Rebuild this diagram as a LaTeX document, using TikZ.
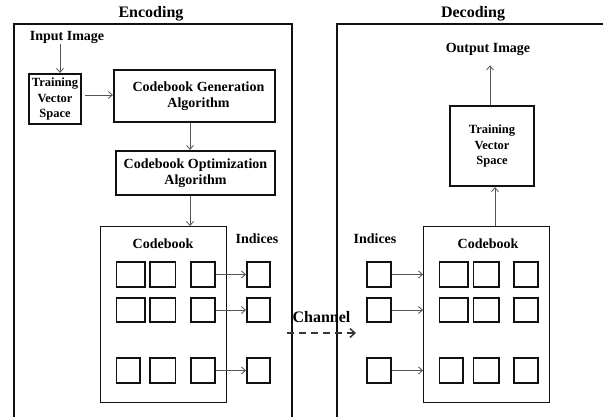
\documentclass[tikz,border=0pt]{standalone}
\usepackage{fontspec}
\setmainfont{Liberation Serif}
\usetikzlibrary{arrows.meta,positioning,calc}
\definecolor{VqDark}{HTML}{111111}
\definecolor{VqGray}{HTML}{555555}
\tikzset{
  frameline/.style={draw=VqDark,line width=1.6pt},
  procbox/.style={draw=VqDark,line width=1.6pt,align=center,inner sep=0pt,font=\fontsize{14}{16.5}\selectfont\bfseries},
  smallbox/.style={procbox,font=\fontsize{12.5}{15.5}\selectfont\bfseries},
  bookbox/.style={draw=VqDark,line width=1.4pt,inner sep=0pt},
  cellbox/.style={draw=VqDark,line width=1.6pt,inner sep=0pt,minimum height=24.5pt},
  flowarrow/.style={-{Straight Barb[length=4pt,width=7pt]},line width=0.8pt,draw=VqGray},
  chanarrow/.style={-{Straight Barb[length=5pt,width=9pt]},dash pattern=on 7pt off 5pt,line width=1.5pt,draw=VqDark!85},
  lbl/.style={font=\fontsize{14}{16}\selectfont\bfseries,inner sep=0pt},
  ttl/.style={font=\fontsize{16}{18}\selectfont\bfseries,inner sep=0pt}
}
\begin{document}
\begin{tikzpicture}[x=1pt,y=-1pt]
\useasboundingbox (0,0) rectangle (603,416);
\draw[frameline] (14,417)--(14,24)--(292,24)--(292,417);
\draw[frameline] (337,417)--(337,24)--(604,24);
\node[ttl] (encT) at (151,14) {Encoding};
\node[ttl] (decT) at (473,14) {Decoding};
% encoding side
\node[lbl] (inImg) at (67,37) {Input Image};
\node[smallbox,minimum width=52.5pt,minimum height=50.5pt] (tvsL) at (55,99) {Training\\Vector\\Space};
\node[procbox,minimum width=161.5pt,minimum height=52.5pt] (genAlg) at (194.5,96) {\hspace*{8pt}Codebook Generation\\\hspace*{8pt}Algorithm};
\node[procbox,minimum width=159.5pt,minimum height=44.5pt] (optAlg) at (195.5,173) {Codebook Optimization\\Algorithm};
\node[bookbox,minimum width=125.5pt,minimum height=175.5pt] (cbL) at (163.5,314.5) {};
\node[lbl] (cbLT) at (163,244) {Codebook};
\node[lbl] (idxLT) at (257,239) {Indices};
\foreach \r/\y/\w in {1/274.5/28.4,2/310/28.4,3/370.5/23.5}{
  \node[cellbox,minimum width=\w,anchor=west] (cL1\r) at (115.8,\y) {};
  \node[cellbox,minimum width=25.4] (cL2\r) at (162.7,\y) {};
  \node[cellbox,minimum width=24.4] (cL3\r) at (203,\y) {};
  \node[cellbox,minimum width=23.4] (iL\r) at (258.5,\y) {};
  \draw[flowarrow] (cL3\r.east) -- (iL\r.west);
}
\draw[flowarrow,shorten <=1pt] ([xshift=5pt]tvsL.north |- inImg.south) -- ([xshift=5pt]tvsL.north);
\draw[flowarrow,shorten <=3pt] ([yshift=4pt]tvsL.east) -- ([yshift=4pt]tvsL.east -| genAlg.west);
\draw[flowarrow] ([xshift=-4.5pt]genAlg.south) -- ([xshift=-4.5pt]genAlg.south |- optAlg.north);
\draw[flowarrow] ([xshift=-5.5pt]optAlg.south) -- ([xshift=-5.5pt]optAlg.south |- cbL.north);
% channel
\coordinate (chA) at (287,333);
\coordinate (chB) at (356,333);
\draw[chanarrow] (chA) -- (chB) node[midway,above=10pt,ttl] (chT) {Channel};
% decoding side
\node[lbl] (outImg) at (488,49) {Output Image};
\node[smallbox,minimum width=84.5pt,minimum height=80.5pt] (tvsR) at (492,146) {Training\\Vector\\Space};
\node[bookbox,minimum width=125.5pt,minimum height=175.5pt] (cbR) at (486.5,314.5) {};
\node[lbl] (cbRT) at (488,244) {Codebook};
\node[lbl] (idxRT) at (375,239) {Indices};
\foreach \r/\y/\w in {1/274.5/28.4,2/310/28.4,3/370.5/23.5}{
  \node[cellbox,minimum width=\w,anchor=west] (cR1\r) at (438.8,\y) {};
  \node[cellbox,minimum width=25.4] (cR2\r) at (486,\y) {};
  \node[cellbox,minimum width=24.4] (cR3\r) at (526,\y) {};
  \node[cellbox,minimum width=24.4] (iR\r) at (379,\y) {};
  \draw[flowarrow] (iR\r.east) -- (iR\r.east -| cbR.west);
}
\draw[flowarrow] ([xshift=3pt]tvsR.south |- cbR.north) -- ([xshift=3pt]tvsR.south);
\draw[flowarrow,shorten >=10pt] ([xshift=-2pt]tvsR.north) -- ([xshift=-2pt]tvsR.north |- outImg.south);
\end{tikzpicture}
\end{document}
